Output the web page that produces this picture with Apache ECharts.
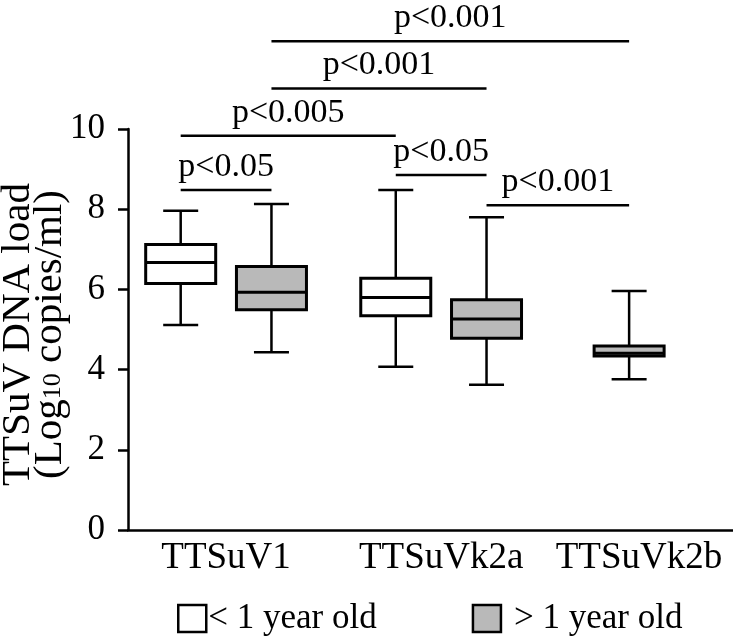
<!DOCTYPE html>
<html><head><meta charset="utf-8">
<script src="https://cdn.jsdelivr.net/npm/echarts@6/dist/echarts.min.js"></script>
<style>html,body{margin:0;padding:0;background:#fff}#c{width:733px;height:637px}</style>
</head><body><div id="c"></div>
<script>
// ---------- data ----------
const categories = ['TTSuV1', 'TTSuVk2a', 'TTSuVk2b'];
const yTicks = [0, 2, 4, 6, 8, 10];
// [min, Q1, median, Q3, max]  (Log10 copies/ml)
const youngStats = [[5.11, 6.15, 6.67, 7.12, 7.96], [4.07, 5.34, 5.80, 6.28, 8.48], null];
const oldStats   = [[4.43, 5.49, 5.93, 6.57, 8.13], [3.62, 4.78, 5.26, 5.74, 7.80], [3.76, 4.34, 4.41, 4.59, 5.96]];
const seriesNames = ['< 1 year old', '> 1 year old'];
const sigLabels = ['p<0.05', 'p<0.05', 'p<0.001', 'p<0.005', 'p<0.001', 'p<0.001'];

// ---------- layout ----------
const groupPos = [0, 1, 1.92];
const pairOffset = 0.211;
const singleOffset = -0.046;
// [fromGroup, fromOld(0/1), toGroup, toOld(0/1), level]
const sigLayout = [
  [0, 0, 0, 1, 8.48],
  [1, 0, 1, 1, 8.85],
  [1, 1, 2, 1, 8.10],
  [0, 0, 1, 0, 9.83],
  [0, 1, 1, 1, 11.01],
  [0, 1, 2, 1, 12.19]
];
const FONT = 'Liberation Serif';
const GRAY = '#b9b9b9';

function boxX(g, old) {
  const paired = youngStats[g] && oldStats[g];
  if (!paired) return groupPos[g] + singleOffset;
  return groupPos[g] + (old ? pairOffset : -pairOffset);
}

function boxData(stats, old) {
  const out = [];
  stats.forEach((s, g) => { if (s) out.push([boxX(g, old)].concat(s)); });
  return out;
}

function renderBox(fill) {
  return function (params, api) {
    const x = api.value(0);
    const p = [1, 2, 3, 4, 5].map(d => api.coord([x, api.value(d)]));
    const cx = p[0][0];
    const bw = 70, cw = 35;
    const ls = { stroke: '#000', lineWidth: 2.5 };
    return {
      type: 'group',
      children: [
        { type: 'line', shape: { x1: cx, y1: p[4][1], x2: cx, y2: p[3][1] }, style: ls },
        { type: 'line', shape: { x1: cx, y1: p[1][1], x2: cx, y2: p[0][1] }, style: ls },
        { type: 'line', shape: { x1: cx - cw / 2, y1: p[4][1], x2: cx + cw / 2, y2: p[4][1] }, style: ls },
        { type: 'line', shape: { x1: cx - cw / 2, y1: p[0][1], x2: cx + cw / 2, y2: p[0][1] }, style: ls },
        { type: 'rect', shape: { x: cx - bw / 2, y: p[3][1], width: bw, height: p[1][1] - p[3][1] },
          style: { fill: fill, stroke: '#000', lineWidth: 3 } },
        { type: 'line', shape: { x1: cx - bw / 2, y1: p[2][1], x2: cx + bw / 2, y2: p[2][1] },
          style: { stroke: '#000', lineWidth: 3 } }
      ]
    };
  };
}

const sigData = sigLayout.map((l, i) => [boxX(l[0], l[1]), boxX(l[2], l[3]), l[4], i]);

const chart = echarts.init(document.getElementById('c'));
chart.setOption({
  animation: false,
  backgroundColor: '#fff',
  textStyle: { fontFamily: FONT, color: '#000' },
  grid: { left: 128, right: 0, top: 129, bottom: 107, outerBoundsMode: 'none' },
  legend: {
    left: 177, top: 601, padding: 0,
    itemWidth: 28, itemHeight: 27, itemGap: 95,
    icon: 'rect',
    selectedMode: false,
    textStyle: { fontFamily: FONT, fontSize: 35, color: '#000' },
    data: [
      { name: seriesNames[0], itemStyle: { color: '#fff', borderColor: '#000', borderWidth: 2.5 },
        textStyle: { padding: [0, 0, 0, -3] } },
      { name: seriesNames[1], itemStyle: { color: GRAY, borderColor: '#000', borderWidth: 2.5 },
        textStyle: { padding: [0, 0, 0, 8] } }
    ]
  },
  xAxis: {
    type: 'value', min: -0.456, max: 2.357,
    splitLine: { show: false },
    axisTick: { show: false },
    axisLine: { show: true, onZero: false, lineStyle: { color: '#000', width: 2.5 } },
    axisLabel: {
      customValues: groupPos,
      margin: 10,
      fontFamily: FONT, fontSize: 37, color: '#000',
      formatter: function (v) {
        let best = 0;
        groupPos.forEach((g, i) => { if (Math.abs(g - v) < Math.abs(groupPos[best] - v)) best = i; });
        return categories[best];
      }
    }
  },
  yAxis: {
    type: 'value', min: yTicks[0], max: yTicks[yTicks.length - 1], interval: 2,
    splitLine: { show: false },
    axisLine: { show: true, onZero: false, lineStyle: { color: '#000', width: 2.5 } },
    axisTick: { show: true, length: 10, lineStyle: { color: '#000', width: 2.5 } },
    axisLabel: { margin: 23, fontFamily: FONT, fontSize: 35, color: '#000' },
    name: 'TTSuV DNA load\n{n|(Log}{s|10}{n| copies/ml)}',
    nameLocation: 'middle',
    nameRotate: 90,
    nameGap: 62,
    nameMoveOverlap: false,
    nameTextStyle: {
      fontFamily: FONT, fontSize: 41, color: '#000', lineHeight: 32,
      padding: [0, 10, 0, 0],
      rich: {
        n: { fontFamily: FONT, fontSize: 41, lineHeight: 32, color: '#000' },
        s: { fontFamily: FONT, fontSize: 26, lineHeight: 14, verticalAlign: 'bottom', color: '#000' }
      }
    }
  },
  series: [
    {
      name: seriesNames[0], type: 'custom',
      itemStyle: { color: '#fff', borderColor: '#000' },
      encode: { x: 0, y: [1, 2, 3, 4, 5] },
      renderItem: renderBox('#fff'),
      data: boxData(youngStats, false)
    },
    {
      name: seriesNames[1], type: 'custom',
      itemStyle: { color: GRAY, borderColor: '#000' },
      encode: { x: 0, y: [1, 2, 3, 4, 5] },
      renderItem: renderBox(GRAY),
      data: boxData(oldStats, true)
    },
    {
      name: 'sig', type: 'custom', clip: false,
      encode: { x: [0, 1], y: 2 },
      renderItem: function (params, api) {
        const a = api.coord([api.value(0), api.value(2)]);
        const b = api.coord([api.value(1), api.value(2)]);
        const txt = sigLabels[api.value(3)];
        return {
          type: 'group',
          children: [
            { type: 'line', shape: { x1: a[0], y1: a[1], x2: b[0], y2: b[1] },
              style: { stroke: '#000', lineWidth: 2.5 } },
            { type: 'text', x: (a[0] + b[0]) / 2, y: a[1] - 6,
              style: { text: txt, fontFamily: FONT, fontSize: 34, fill: '#000',
                       align: 'center', verticalAlign: 'bottom' } }
          ]
        };
      },
      data: sigData
    }
  ]
});
</script>
</body></html>
